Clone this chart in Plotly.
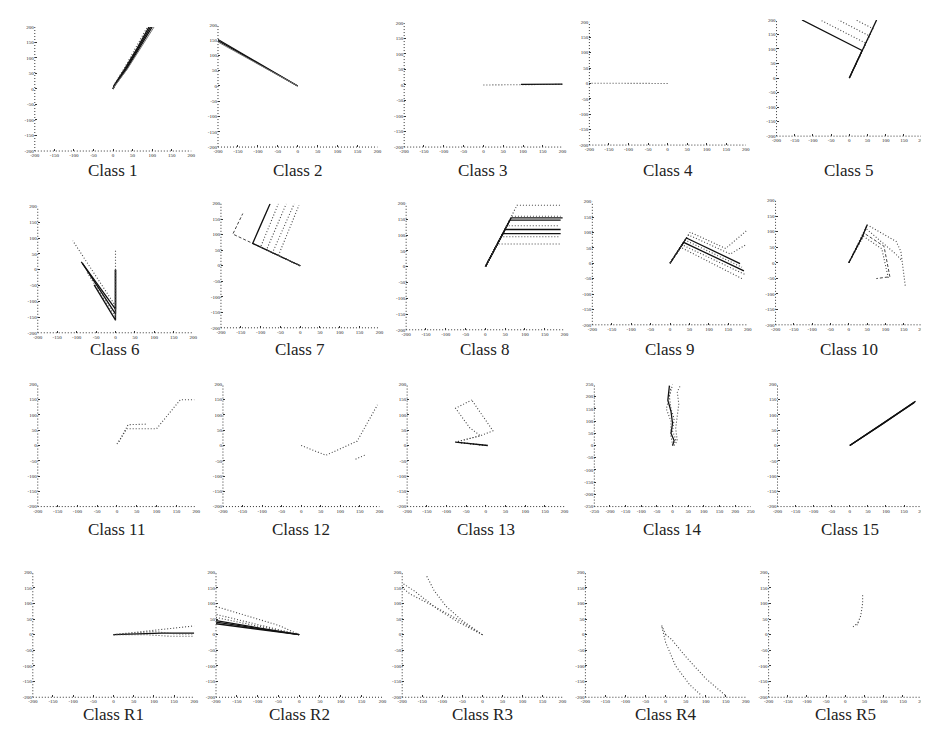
import plotly.graph_objects as go

# ---------------- data (trajectories per class, in axis units) ----------------
class_names = ["Class 1", "Class 2", "Class 3", "Class 4", "Class 5",
               "Class 6", "Class 7", "Class 8", "Class 9", "Class 10",
               "Class 11", "Class 12", "Class 13", "Class 14", "Class 15",
               "Class R1", "Class R2", "Class R3", "Class R4", "Class R5"]

tick_vals = [-200, -150, -100, -50, 0, 50, 100, 150, 200]
tick_vals_14 = [-250, -200, -150, -100, -50, 0, 50, 100, 150, 200, 250]

c1_x = [[0, 3, 30, 62, 92], [0, 4, 33, 65, 96], [0, 5, 35, 68, 100], [0, 6, 37, 71, 105], [0, 2, 28, 58, 88]]
c1_y = [[0, 12, 65, 132, 200], [0, 12, 65, 132, 200], [0, 12, 65, 132, 200], [0, 12, 65, 132, 200], [0, 12, 65, 132, 200]]

c2_x = [[0, -100, -200], [0, -100, -200], [0, -100, -200]]
c2_y = [[0, 74, 148], [0, 76, 152], [0, 72, 144]]

c3_x = [[0, 100, 200], [95, 200]]
c3_y = [[0, 1, 2], [2, 3]]

c4_x = [[0, -100, -200]]
c4_y = [[0, 0, 1]]

c5_x = [[0, 35, -130], [0, 45, -80], [0, 55, -30], [0, 65, 18], [0, 75]]
c5_y = [[0, 95, 200], [0, 120, 200], [0, 145, 200], [0, 170, 200], [0, 200]]

c6_x = [[0, 0, -110], [0, 0, -88], [0, 0, -85], [0, 0, -55], [0, 0, -75], [0, 0]]
c6_y = [[0, -115, 92], [0, -125, 25], [0, -140, 20], [0, -160, -48], [0, -150, -5], [60, -160]]

c7_x = [[0, -170, -145], [0, -120, -100, -76], [0, -100, -55], [0, -85, -35], [0, -70, -15], [0, -55, -3]]
c7_y = [[0, 102, 168], [0, 72, 130, 200], [0, 60, 200], [0, 51, 200], [0, 42, 200], [0, 33, 195]]

c8_x = [[0, 80, 190], [0, 67, 190], [0, 65, 195], [0, 62, 190], [0, 55, 185], [0, 50, 190], [0, 44, 190], [0, 40, 185], [0, 30, 190]]
c8_y = [[0, 195, 195], [0, 160, 160], [0, 155, 155], [0, 148, 148], [0, 130, 130], [0, 118, 118], [0, 105, 105], [0, 95, 95], [0, 72, 72]]

c9_x = [[0, 52, 143, 197], [0, 47, 155, 195], [0, 42, 180], [0, 39, 185], [0, 35, 190], [0, 31, 195], [0, 27, 185]]
c9_y = [[0, 101, 48, 106], [0, 92, 30, 60], [0, 82, -1], [0, 75, -13], [0, 68, -25], [0, 60, -38], [0, 52, -50]]

c10_x = [[0, 50, 129, 142, 154], [0, 47, 129, 146], [0, 42, 96, 112, 75], [0, 40, 90, 108], [0, 37, 50]]
c10_y = [[0, 122, 69, 37, -74], [0, 110, 27, 5], [0, 95, 53, -45, -51], [0, 85, 45, -50], [0, 85, 122]]

c11_x = [[0, 25, 100, 160, 195], [5, 28, 75]]
c11_y = [[5, 55, 55, 150, 150], [12, 68, 70]]

c12_x = [[0, 63, 143, 195], [139, 167], [203, 203]]
c12_y = [[0, -32, 14, 133], [-45, -29], [-5, 12]]

c13_x = [[0, -77, -14, 18, -36], [0, -77, -14, -41, -77, -36], [5, -77]]
c13_y = [[0, 11, 32, 48, 149], [0, 11, 32, 58, 122, 149], [0, 11]]

c14_x = [[0, 5, -5, 0, -5, -15, -10], [0, 10, 0, 5, -5, -10, 0], [5, 15, 10, 15, 20, 15, 25], [0, -5, -5, -20, -12, -5]]
c14_y = [[0, 20, 50, 90, 140, 185, 245], [0, 25, 60, 110, 150, 200, 250], [0, 20, 70, 120, 170, 220, 245], [0, 40, 100, 150, 190, 240]]

c15_x = [[0, 90, 180], [0, 90, 182], [0, 88, 178]]
c15_y = [[0, 70, 143], [0, 72, 145], [0, 68, 140]]

r1_x = [[0, 60, 120, 200], [0, 60, 120, 200], [0, 80, 140, 200], [0, 50, 100, 150, 200]]
r1_y = [[0, 8, 15, 28], [0, 3, 5, 5], [0, 0, -5, -5], [0, 5, 10, 3, 2]]

r2_x = [[0, -200], [0, -200], [0, -200], [0, -200], [0, -50, -200], [0, -200]]
r2_y = [[0, 35], [0, 45], [0, 55], [0, 65], [0, 30, 90], [0, 40]]

r3_x = [[0, -60, -110, -170, -200], [0, -50, -90, -120, -140], [0, -70, -120, -180, -200]]
r3_y = [[0, 40, 80, 140, 165], [0, 45, 90, 140, 190], [0, 55, 90, 130, 150]]

r4_x = [[0, -10, 0, 25, 60, 90], [0, 15, 50, 100, 150]]
r4_y = [[0, 30, -25, -100, -160, -195], [0, -15, -70, -140, -195]]

r5_x = [[30, 40, 45, 45], [20, 35]]
r5_y = [[30, 60, 100, 130], [25, 40]]

# ---------------- styles ----------------
STYLE = {
    'k': dict(color='#111111', width=1.3),
    'g': dict(color='#777777', width=1.0),
    'd': dict(color='#444444', width=1.1, dash='1px,2px'),
    'a': dict(color='#444444', width=1.0, dash='3px,2px'),
}

panels = [
    (c1_x, c1_y, ['k', 'k', 'k', 'g', 'd']),
    (c2_x, c2_y, ['k', 'k', 'g']),
    (c3_x, c3_y, ['d', 'k']),
    (c4_x, c4_y, ['d']),
    (c5_x, c5_y, ['k', 'd', 'd', 'd', 'k']),
    (c6_x, c6_y, ['d', 'k', 'k', 'k', 'd', 'd']),
    (c7_x, c7_y, ['a', 'k', 'd', 'd', 'd', 'd']),
    (c8_x, c8_y, ['d', 'd', 'k', 'k', 'd', 'k', 'k', 'd', 'd']),
    (c9_x, c9_y, ['d', 'd', 'k', 'd', 'k', 'd', 'd']),
    (c10_x, c10_y, ['d', 'd', 'a', 'd', 'k']),
    (c11_x, c11_y, ['d', 'd']),
    (c12_x, c12_y, ['d', 'd', 'd']),
    (c13_x, c13_y, ['d', 'd', 'k']),
    (c14_x, c14_y, ['k', 'd', 'd', 'd']),
    (c15_x, c15_y, ['k', 'k', 'k']),
    (r1_x, r1_y, ['d', 'k', 'd', 'd']),
    (r2_x, r2_y, ['k', 'k', 'd', 'd', 'd', 'k']),
    (r3_x, r3_y, ['d', 'd', 'd']),
    (r4_x, r4_y, ['d', 'd']),
    (r5_x, r5_y, ['d', 'd']),
]

# ---------------- layout geometry (pixels) ----------------
W, H = 929, 729
left_px = [[22, 207, 395, 582, 771], [25, 210, 397, 585, 770], [25, 212, 398, 587, 772], [20, 205, 393, 578, 763]]
right_px = [[180, 368, 555, 740, 918], [182, 370, 557, 742, 918], [185, 370, 557, 745, 918], [183, 373, 555, 740, 918]]
top_px = [[17, 15, 13, 12, 10], [198, 195, 195, 193, 192], [377, 377, 377, 377, 377], [566, 566, 566, 566, 566]]
bot_px = [[142, 138, 138, 136, 127], [325, 320, 322, 317, 317], [500, 500, 500, 500, 500], [692, 692, 692, 692, 692]]
label_y_px = [162, 342, 523, 709]

fig = go.Figure()
layout = dict(width=W, height=H, margin=dict(l=0, r=0, t=0, b=0),
              paper_bgcolor='white', plot_bgcolor='white', showlegend=False)
shapes = []
annotations = []

for i, (xs, ys, sty) in enumerate(panels):
    r, c = divmod(i, 5)
    n = i + 1
    sfx = '' if n == 1 else str(n)
    x0 = left_px[r][c] / W
    x1 = right_px[r][c] / W
    y0 = 1 - bot_px[r][c] / H
    y1 = 1 - top_px[r][c] / H
    tv = tick_vals_14 if i == 13 else tick_vals
    rng = [tv[0], tv[-1]]
    axcommon = dict(range=rng, tickvals=tv, ticktext=[str(v) for v in tv],
                    showgrid=False, zeroline=False, showline=False,
                    ticks='inside', ticklen=2, tickwidth=1, tickcolor='#333',
                    tickfont=dict(size=5, color='#222', family='Liberation Serif'),
                    fixedrange=True)
    layout['xaxis' + sfx] = dict(domain=[x0, x1], anchor='y' + sfx, **axcommon)
    layout['yaxis' + sfx] = dict(domain=[y0, y1], anchor='x' + sfx, **axcommon)
    for xx, yy, s in zip(xs, ys, sty):
        fig.add_trace(go.Scatter(x=xx, y=yy, mode='lines', line=STYLE[s],
                                 xaxis='x' + sfx, yaxis='y' + sfx, hoverinfo='skip'))
    # dotted axis lines (left and bottom)
    shapes.append(dict(type='line', xref='x' + sfx + ' domain', yref='y' + sfx + ' domain',
                       x0=0, x1=1, y0=0, y1=0, line=dict(color='#333', width=1, dash='1px,2px')))
    shapes.append(dict(type='line', xref='x' + sfx + ' domain', yref='y' + sfx + ' domain',
                       x0=0, x1=0, y0=0, y1=1, line=dict(color='#333', width=1, dash='1px,2px')))
    annotations.append(dict(text=class_names[i], xref='paper', yref='paper',
                            x=(x0 + x1) / 2, y=1 - label_y_px[r] / H,
                            xanchor='center', yanchor='middle', showarrow=False,
                            font=dict(family='Liberation Serif', size=17, color='#222')))

layout['shapes'] = shapes
layout['annotations'] = annotations
fig.update_layout(**layout)
fig.write_html("out.html")
